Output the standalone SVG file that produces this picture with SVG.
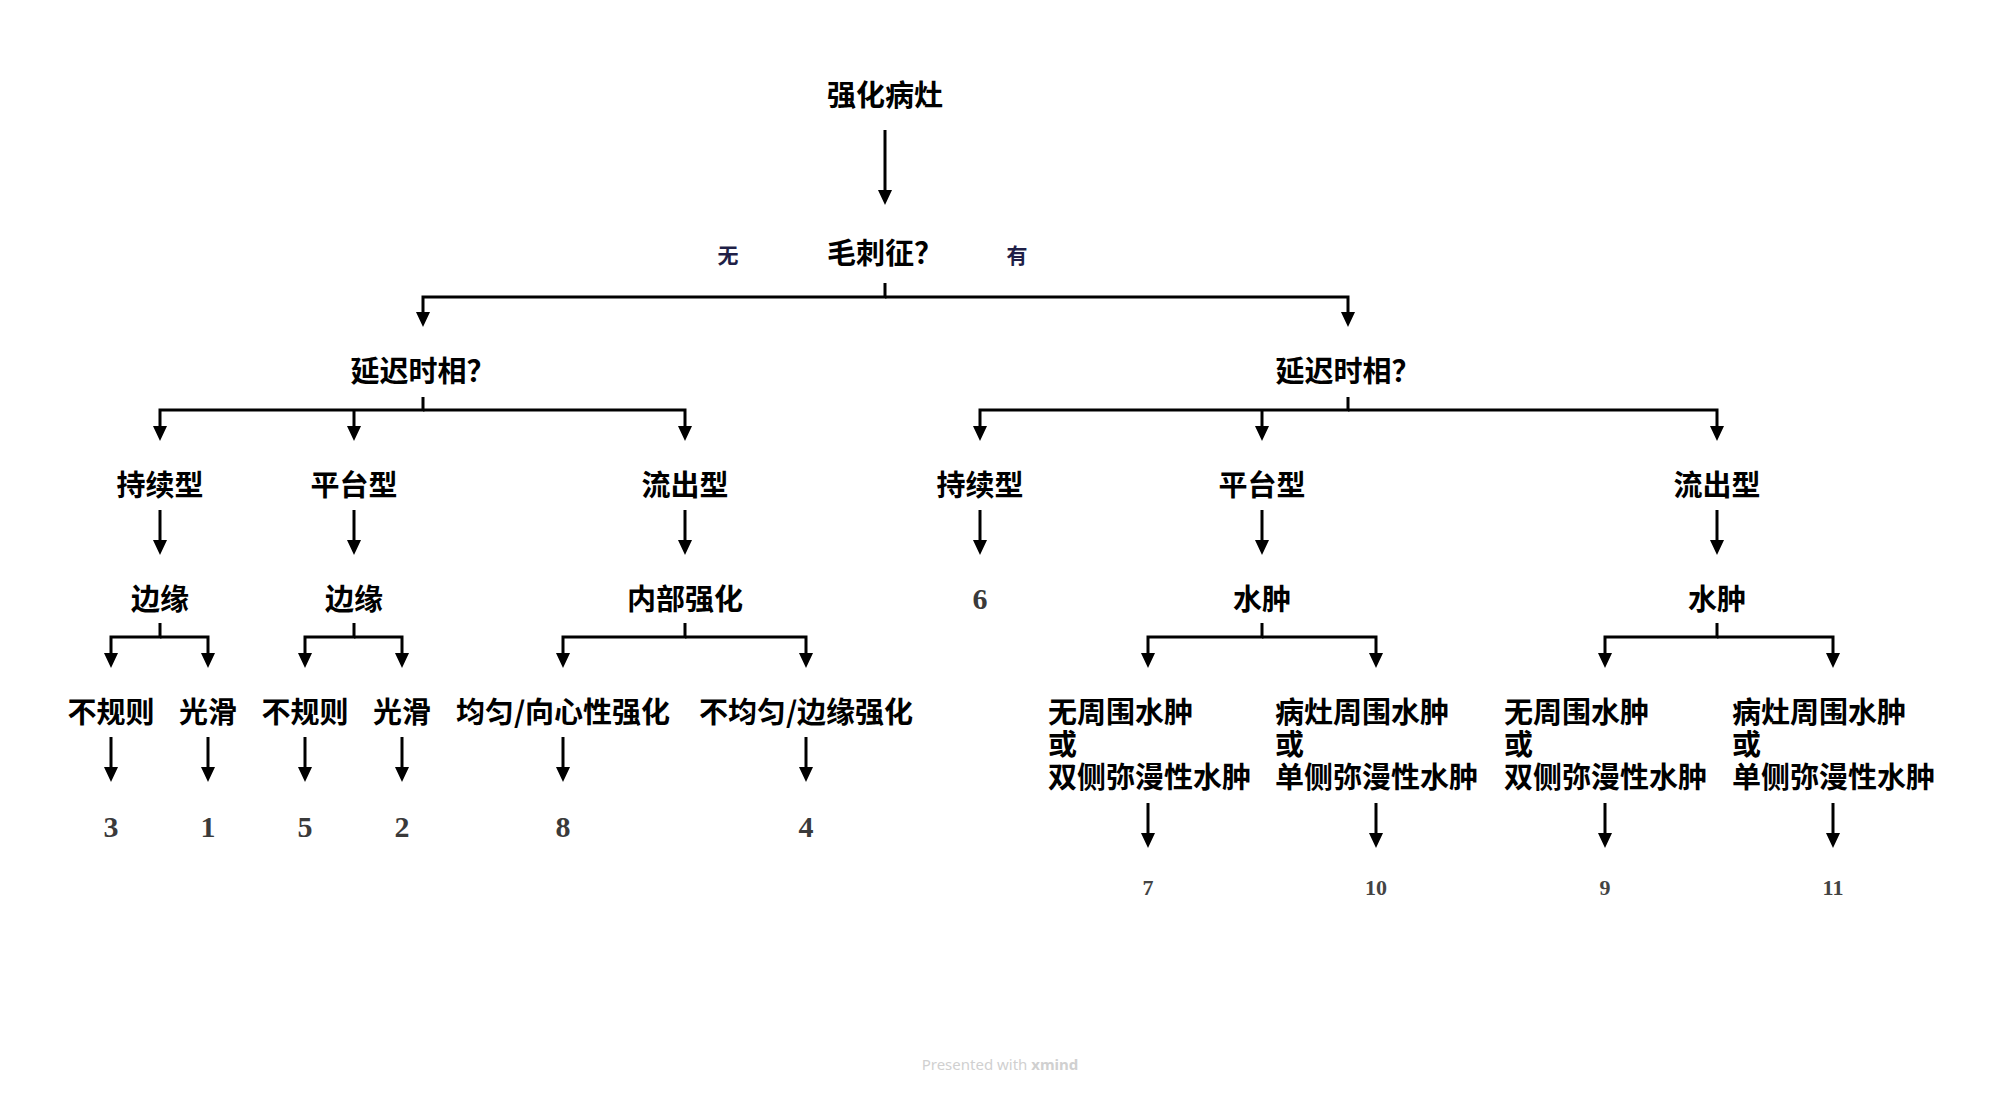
<svg xmlns="http://www.w3.org/2000/svg" width="2000" height="1095" viewBox="0 0 2000 1095">
<style>
.t{font-family:"Noto Sans CJK SC","Noto Sans",sans-serif;font-size:29px;font-weight:bold;fill:#000;text-anchor:middle}
.tl{font-family:"Noto Sans CJK SC","Noto Sans",sans-serif;font-size:29px;font-weight:bold;fill:#000;text-anchor:start}
.lab{font-family:"Noto Sans CJK SC","Noto Sans",sans-serif;font-size:21px;font-weight:bold;fill:#1f1f47;text-anchor:middle}
.n{font-family:"Liberation Serif","DejaVu Serif",serif;font-size:30px;font-weight:bold;fill:#3a3a3a;text-anchor:middle}
.ns{font-family:"Liberation Serif","DejaVu Serif",serif;font-size:22px;font-weight:bold;fill:#444;text-anchor:middle}
.c{fill:none;stroke:#000;stroke-width:3;stroke-linejoin:miter;marker-end:url(#ah)}
.wm{font-family:"Noto Sans","Open Sans",sans-serif;font-size:15px;fill:#d0d0d0;text-anchor:middle}
</style>
<defs>
<marker id="ah" markerUnits="userSpaceOnUse" markerWidth="16" markerHeight="16" refX="5" refY="7" orient="auto">
<path d="M0,0 L15,7 L0,14 Z" fill="#000"/>
</marker>
</defs>
<rect width="2000" height="1095" fill="#fff"/>
<g id="connectors">
<path class="c" d="M885,130 V195"/>
<path class="c" d="M885,283 V297 H423 V317"/>
<path class="c" d="M885,297 H1348 V317"/>
<path class="c" d="M423,397 V410 H160 V431"/>
<path class="c" d="M423,410 H685 V431"/>
<path class="c" d="M354,410 V431"/>
<path class="c" d="M1348,397 V410 H980 V431"/>
<path class="c" d="M1348,410 H1717 V431"/>
<path class="c" d="M1262,410 V431"/>
<path class="c" d="M160,510 V545"/>
<path class="c" d="M354,510 V545"/>
<path class="c" d="M685,510 V545"/>
<path class="c" d="M980,510 V545"/>
<path class="c" d="M1262,510 V545"/>
<path class="c" d="M1717,510 V545"/>
<path class="c" d="M160,623 V637 H111 V658"/>
<path class="c" d="M160,637 H208 V658"/>
<path class="c" d="M354,623 V637 H305 V658"/>
<path class="c" d="M354,637 H402 V658"/>
<path class="c" d="M685,623 V637 H563 V658"/>
<path class="c" d="M685,637 H806 V658"/>
<path class="c" d="M1262,623 V637 H1148 V658"/>
<path class="c" d="M1262,637 H1376 V658"/>
<path class="c" d="M1717,623 V637 H1605 V658"/>
<path class="c" d="M1717,637 H1833 V658"/>
<path class="c" d="M111,737 V772"/>
<path class="c" d="M208,737 V772"/>
<path class="c" d="M305,737 V772"/>
<path class="c" d="M402,737 V772"/>
<path class="c" d="M563,737 V772"/>
<path class="c" d="M806,737 V772"/>
<path class="c" d="M1148,803 V838"/>
<path class="c" d="M1376,803 V838"/>
<path class="c" d="M1605,803 V838"/>
<path class="c" d="M1833,803 V838"/>
</g>
<g id="root"><text class="t" x="885" y="106">强化病灶</text></g>
<g id="spicule"><text class="t" x="885" y="264">毛刺征？</text></g>
<g id="label-no"><text class="lab" x="728" y="263">无</text></g>
<g id="label-yes"><text class="lab" x="1017" y="263">有</text></g>
<g id="delay-left"><text class="t" x="423" y="382">延迟时相？</text></g>
<g id="delay-right"><text class="t" x="1348" y="382">延迟时相？</text></g>
<g id="l-persist"><text class="t" x="160" y="496">持续型</text></g>
<g id="l-plateau"><text class="t" x="354" y="496">平台型</text></g>
<g id="l-washout"><text class="t" x="685" y="496">流出型</text></g>
<g id="r-persist"><text class="t" x="980" y="496">持续型</text></g>
<g id="r-plateau"><text class="t" x="1262" y="496">平台型</text></g>
<g id="r-washout"><text class="t" x="1717" y="496">流出型</text></g>
<g id="l-margin1"><text class="t" x="160" y="610">边缘</text></g>
<g id="l-margin2"><text class="t" x="354" y="610">边缘</text></g>
<g id="l-internal"><text class="t" x="685" y="610">内部强化</text></g>
<g id="r-six"><text class="n" x="980" y="609">6</text></g>
<g id="r-edema1"><text class="t" x="1262" y="610">水肿</text></g>
<g id="r-edema2"><text class="t" x="1717" y="610">水肿</text></g>
<g id="leaf-irr1"><text class="t" x="111" y="723">不规则</text></g>
<g id="leaf-smooth1"><text class="t" x="208" y="723">光滑</text></g>
<g id="leaf-irr2"><text class="t" x="305" y="723">不规则</text></g>
<g id="leaf-smooth2"><text class="t" x="402" y="723">光滑</text></g>
<g id="leaf-homog"><text class="t" x="563" y="723">均匀/向心性强化</text></g>
<g id="leaf-heter"><text class="t" x="806" y="723">不均匀/边缘强化</text></g>
<g id="leaf-e1"><text class="tl" x="1048" y="723">无周围水肿</text><text class="tl" x="1048" y="755">或</text><text class="tl" x="1048" y="788">双侧弥漫性水肿</text></g>
<g id="leaf-e2"><text class="tl" x="1275" y="723">病灶周围水肿</text><text class="tl" x="1275" y="755">或</text><text class="tl" x="1275" y="788">单侧弥漫性水肿</text></g>
<g id="leaf-e3"><text class="tl" x="1504" y="723">无周围水肿</text><text class="tl" x="1504" y="755">或</text><text class="tl" x="1504" y="788">双侧弥漫性水肿</text></g>
<g id="leaf-e4"><text class="tl" x="1732" y="723">病灶周围水肿</text><text class="tl" x="1732" y="755">或</text><text class="tl" x="1732" y="788">单侧弥漫性水肿</text></g>
<g id="num-3"><text class="n" x="111" y="837">3</text></g>
<g id="num-1"><text class="n" x="208" y="837">1</text></g>
<g id="num-5"><text class="n" x="305" y="837">5</text></g>
<g id="num-2"><text class="n" x="402" y="837">2</text></g>
<g id="num-8"><text class="n" x="563" y="837">8</text></g>
<g id="num-4"><text class="n" x="806" y="837">4</text></g>
<g id="num-7"><text class="ns" x="1148" y="895">7</text></g>
<g id="num-10"><text class="ns" x="1376" y="895">10</text></g>
<g id="num-9"><text class="ns" x="1605" y="895">9</text></g>
<g id="num-11"><text class="ns" x="1833" y="895">11</text></g>
<text class="wm" x="1000" y="1070">Presented with <tspan font-weight="bold">xmind</tspan></text>
</svg>
